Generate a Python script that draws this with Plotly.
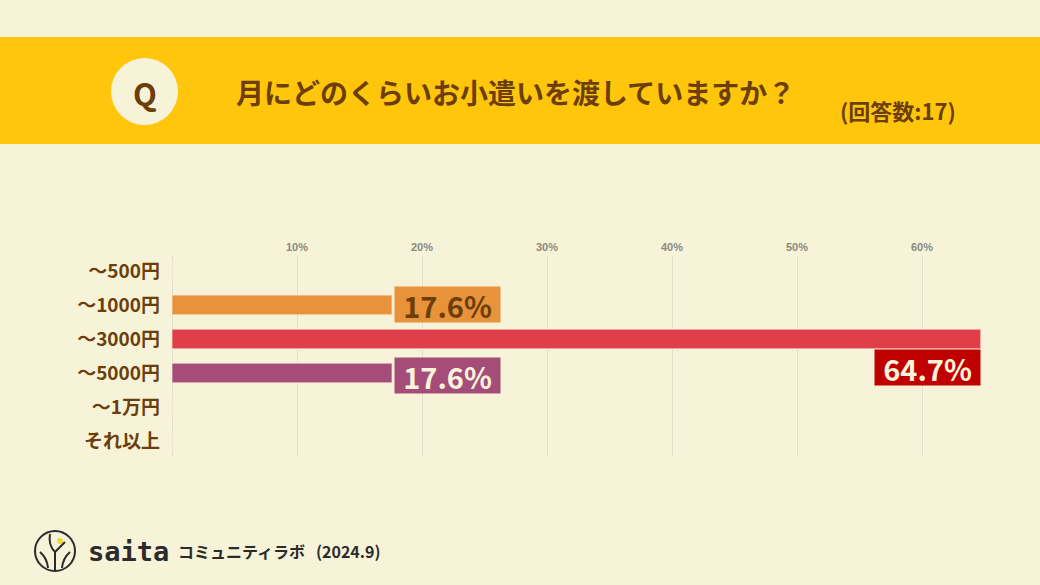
import plotly.graph_objects as go

categories = ["～500円", "～1000円", "～3000円", "～5000円", "～1万円", "それ以上"]
values = [0, 17.6, 64.7, 17.6, 0, 0]
bar_colors = ["#E8923A", "#E8923A", "#E03E48", "#A34D78", "#E8923A", "#E8923A"]
label_bg = {"～1000円": "#E8923A", "～3000円": "#C00000", "～5000円": "#A34D78"}
label_fg = {"～1000円": "#6B3E0A", "～3000円": "#FBF3DC", "～5000円": "#FBF3DC"}
tick_vals = [10, 20, 30, 40, 50, 60]
tick_text = ["10%", "20%", "30%", "40%", "50%", "60%"]
title = "月にどのくらいお小遣いを渡していますか？"
subtitle = "(回答数:17)"

W, H = 1040, 585
L, R, T, B = 172, 1022, 256, 456
BG = "#F7F3D9"
BROWN = "#6B3E0A"
JP = "Noto Sans CJK JP"


def px(x):
    return (x - L) / (R - L)


def py(y):
    return (B - y) / (B - T)


fig = go.Figure()
fig.add_trace(go.Bar(
    x=values, y=categories, orientation="h",
    marker=dict(color=bar_colors, line=dict(color="rgba(255,235,220,0.7)", width=1)),
    width=0.58, hoverinfo="skip",
))

annotations = []
shapes = []

# value labels
yshifts = {"～1000円": 0, "～3000円": -29, "～5000円": -2}
for cat, v in zip(categories, values):
    if v <= 0:
        continue
    txt = f"<b>{v:.1f}%</b>"
    big = v > 50
    annotations.append(dict(x=v, y=cat, xref="x", yref="y", text=txt, showarrow=False,
                            xanchor="right" if big else "left", yanchor="middle",
                            xshift=0 if big else 2, yshift=yshifts[cat],
                            width=103, height=33, bgcolor=label_bg[cat],
                            font=dict(family=JP, size=29, color=label_fg[cat])))

# header band
shapes.append(dict(type="rect", xref="paper", yref="paper", x0=px(0), x1=px(W), y0=py(144), y1=py(37),
                   fillcolor="#FFC60B", line=dict(width=0), layer="below"))
shapes.append(dict(type="circle", xref="paper", yref="paper", x0=px(111), x1=px(178), y0=py(125), y1=py(58),
                   fillcolor=BG, line=dict(width=0)))
annotations.append(dict(x=px(145), y=py(92), xref="paper", yref="paper", text="<b>Q</b>", showarrow=False,
                        xanchor="center", yanchor="middle", font=dict(family=JP, size=31, color=BROWN)))
annotations.append(dict(x=px(234), y=py(92), xref="paper", yref="paper", text="<b>" + title + "</b>",
                        showarrow=False, xanchor="left", yanchor="middle",
                        font=dict(family=JP, size=28, color=BROWN)))
annotations.append(dict(x=px(838), y=py(110), xref="paper", yref="paper", text="<b>" + subtitle + "</b>",
                        showarrow=False, xanchor="left", yanchor="middle",
                        font=dict(family=JP, size=22, color=BROWN)))

# footer logo
shapes.append(dict(type="circle", xref="paper", yref="paper", x0=px(35), x1=px(75), y0=py(571), y1=py(531),
                   fillcolor="rgba(0,0,0,0)", line=dict(color="#2B2B2B", width=2)))
shapes.append(dict(type="circle", xref="paper", yref="paper", x0=px(57), x1=px(63), y0=py(544), y1=py(538),
                   fillcolor="#F2D53C", line=dict(width=0)))
shapes.append(dict(type="path", xref="paper", yref="paper",
                   path=f"M {px(55)},{py(571)} L {px(55)},{py(552)} Q {px(48)},{py(545)} {px(50)},{py(534)}"
                        f" M {px(55)},{py(552)} L {px(65)},{py(542)}"
                        f" M {px(40)},{py(552)} Q {px(47)},{py(558)} {px(48)},{py(568)}"
                        f" M {px(70)},{py(552)} Q {px(63)},{py(558)} {px(62)},{py(568)}",
                   line=dict(color="#2B2B2B", width=2)))
annotations.append(dict(x=px(86), y=py(551), xref="paper", yref="paper", text="<b>saita</b>", showarrow=False,
                        xanchor="left", yanchor="middle",
                        font=dict(family="DejaVu Sans Mono", size=27, color="#2B2B2B")))
annotations.append(dict(x=px(176), y=py(551), xref="paper", yref="paper", text="<b>コミュニティラボ</b>",
                        showarrow=False, xanchor="left", yanchor="middle",
                        font=dict(family=JP, size=16, color="#2B2B2B")))
annotations.append(dict(x=px(314), y=py(551), xref="paper", yref="paper", text="<b>(2024.9)</b>",
                        showarrow=False, xanchor="left", yanchor="middle",
                        font=dict(family=JP, size=16, color="#2B2B2B")))

fig.update_layout(
    width=W, height=H,
    margin=dict(l=L, r=W - R, t=T, b=H - B, pad=0),
    paper_bgcolor=BG, plot_bgcolor=BG,
    showlegend=False,
    xaxis=dict(range=[0, 68], side="top", tickvals=tick_vals,
               ticktext=["<b>" + t + "</b>" for t in tick_text],
               tickfont=dict(family="Liberation Sans", size=11, color="#8A8A80"),
               showgrid=True, gridcolor="#E2DECA", gridwidth=1,
               zeroline=True, zerolinecolor="#E2DECA", zerolinewidth=1,
               showline=False, ticks="", fixedrange=True, ticklabelstandoff=2),
    yaxis=dict(categoryorder="array", categoryarray=categories, range=[5.44, -0.44],
               tickvals=categories, ticktext=["<b>" + c + "</b>" for c in categories],
               tickfont=dict(family=JP, size=19, color=BROWN),
               showgrid=False, zeroline=False, showline=False, ticks="",
               ticklabelstandoff=11, fixedrange=True),
    shapes=shapes,
    annotations=annotations,
)

fig.write_html("out.html")
